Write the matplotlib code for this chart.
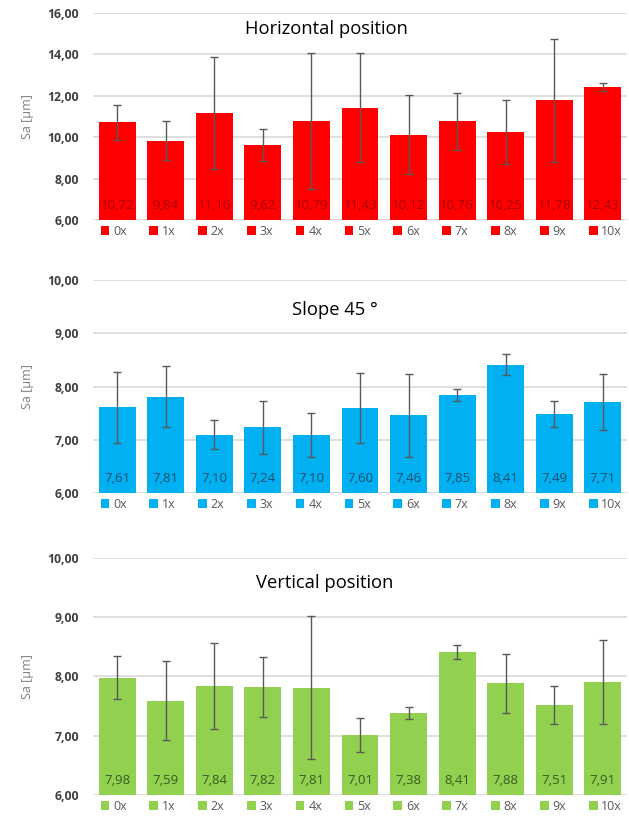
import matplotlib
matplotlib.use("Agg")
import matplotlib.pyplot as plt
from matplotlib.patches import Patch

plt.rcParams['font.family'] = ['Open Sans', 'DejaVu Sans']

categories = ["0x", "1x", "2x", "3x", "4x", "5x", "6x", "7x", "8x", "9x", "10x"]

horiz_values = [10.72, 9.84, 11.16, 9.62, 10.79, 11.43, 10.12, 10.76, 10.25, 11.78, 12.43]
horiz_errors = [0.85, 0.95, 2.72, 0.76, 3.29, 2.65, 1.90, 1.37, 1.55, 2.98, 0.20]

slope_values = [7.61, 7.81, 7.10, 7.24, 7.10, 7.60, 7.46, 7.85, 8.41, 7.49, 7.71]
slope_errors = [0.66, 0.57, 0.27, 0.50, 0.41, 0.66, 0.77, 0.11, 0.20, 0.24, 0.53]

vert_values = [7.98, 7.59, 7.84, 7.82, 7.81, 7.01, 7.38, 8.41, 7.88, 7.51, 7.91]
vert_errors = [0.37, 0.67, 0.72, 0.51, 1.21, 0.285, 0.10, 0.12, 0.49, 0.32, 0.71]

panels = [
    dict(title="Horizontal position", values=horiz_values, errors=horiz_errors,
         color="#FF0000", label_color="#A80000", ylim=(6, 16), step=2,
         rect=(93, 13, 627, 220), title_xy=(326, 29)),
    dict(title="Slope 45 °", values=slope_values, errors=slope_errors,
         color="#00B0F0", label_color="#1F4E6E", ylim=(6, 10), step=1,
         rect=(93, 280, 627, 493.3), title_xy=(335, 310)),
    dict(title="Vertical position", values=vert_values, errors=vert_errors,
         color="#92D050", label_color="#3A5A22", ylim=(6, 10), step=1,
         rect=(93, 557.7, 627, 795), title_xy=(325, 583)),
]

W, H = 629, 818
fig = plt.figure(figsize=(W / 100, H / 100), dpi=100)

for p in panels:
    x0, y0, x1, y1 = p["rect"]
    ax = fig.add_axes([x0 / W, 1 - y1 / H, (x1 - x0) / W, (y1 - y0) / H])
    lo, hi = p["ylim"]
    xs = list(range(len(categories)))
    ax.bar(xs, [v - lo for v in p["values"]], bottom=lo, width=0.76,
           color=p["color"], zorder=2)
    ax.errorbar(xs, p["values"], yerr=p["errors"], fmt="none", ecolor="#595959",
                elinewidth=1.0, capsize=3, capthick=1.0, zorder=3)
    for x, v in zip(xs, p["values"]):
        ax.annotate(f"{v:.2f}".replace(".", ","), xy=(x, lo), xytext=(0, 14.5),
                    textcoords="offset pixels", ha="center", va="center",
                    fontsize=9.5, color=p["label_color"], zorder=4)
    ax.set_xlim(-0.5, len(categories) - 0.5)
    ax.set_ylim(lo, hi)
    ticks = []
    t = lo
    while t <= hi + 1e-9:
        ticks.append(t)
        t += p["step"]
    ax.set_yticks(ticks)
    ax.set_yticklabels([f"{t:.2f}".replace(".", ",") for t in ticks],
                       fontsize=8.8, fontweight="bold", color="#404040")
    ax.tick_params(axis="y", length=0, pad=10)
    ax.set_xticks([])
    ax.grid(axis="y", color="#D9D9D9", linewidth=1.2, zorder=0)
    for s in ax.spines.values():
        s.set_visible(False)
    ax.set_ylabel("Sa [µm]", fontsize=9, color="#7F7F7F")
    ax.yaxis.set_label_coords(-0.11, 0.5)
    handles = [Patch(facecolor=p["color"], edgecolor="none", label=c) for c in categories]
    ax.legend(handles=handles, ncol=len(categories), loc="upper left",
              bbox_to_anchor=(0.005, -0.008, 0.995, 0.01), mode="expand",
              frameon=False, fontsize=9, handlelength=0.7, handleheight=0.7,
              handletextpad=0.3, columnspacing=0.5, borderaxespad=0.0,
              labelcolor="#595959")
    fig.text(p["title_xy"][0] / W, 1 - p["title_xy"][1] / H, p["title"],
             ha="center", va="center", fontsize=13.2, color="#000000")

fig.savefig("out.png", dpi=100)
